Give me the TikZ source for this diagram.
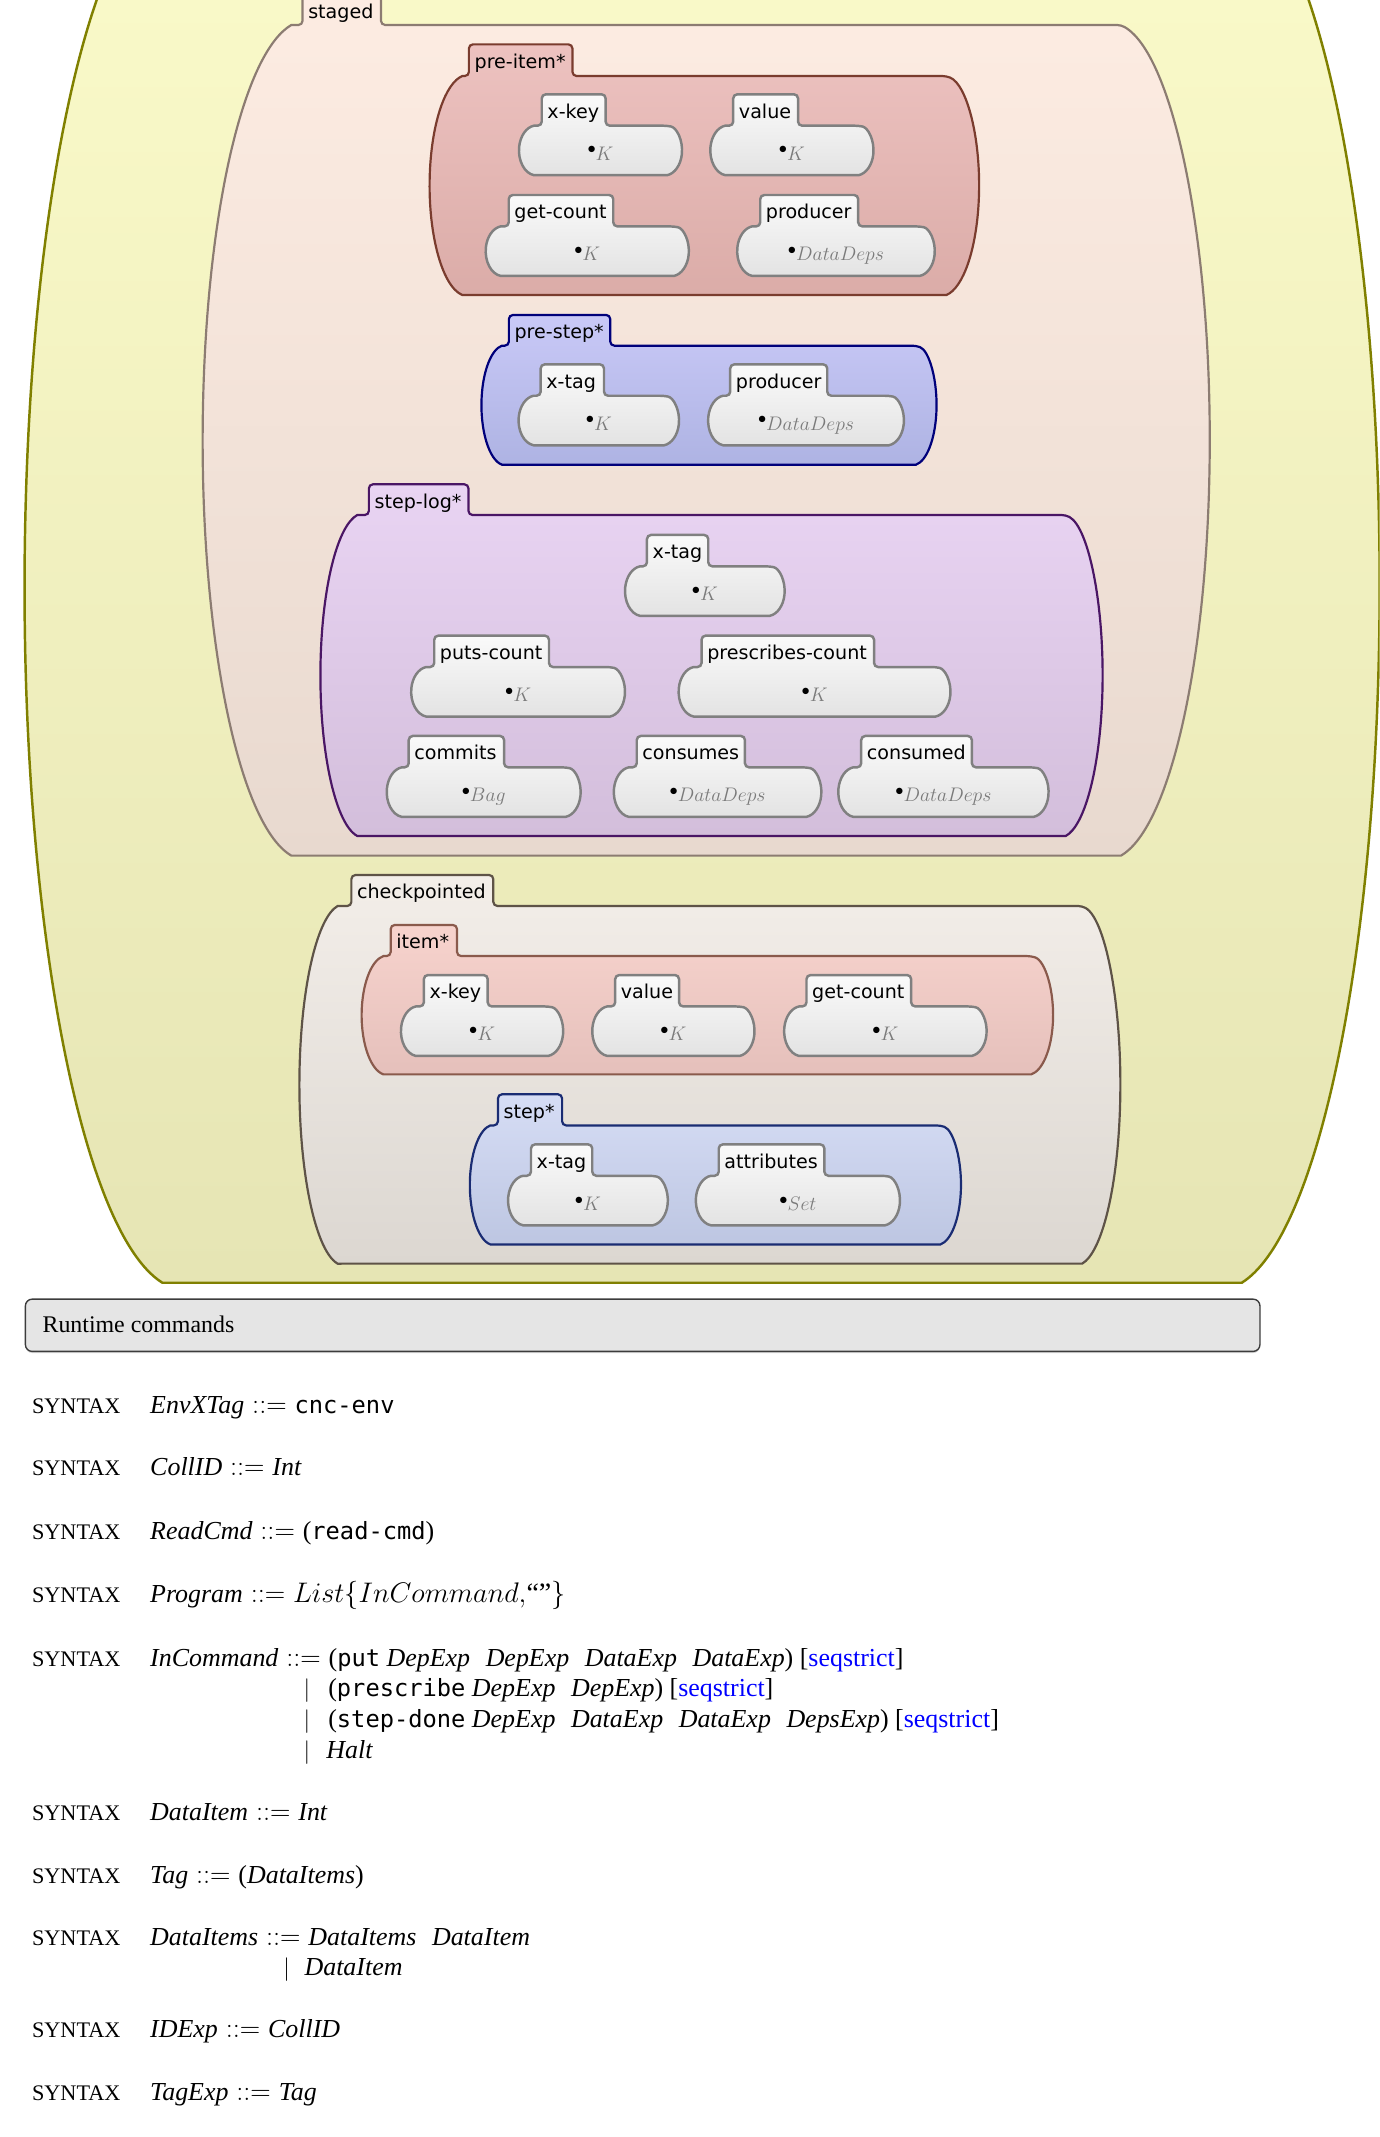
\documentclass[tikz,border=0pt]{standalone}
\usepackage{fontspec}
\setmainfont{Liberation Serif}
\setmonofont[Scale=0.915]{DejaVu Sans Mono}
\newfontfamily\lblfont{DejaVu Sans}
\usetikzlibrary{shadows}
\definecolor{ylTop}{RGB}{251,251,202}
\definecolor{ylBot}{RGB}{230,229,180}
\definecolor{ylBd}{RGB}{128,128,0}
\definecolor{stTop}{RGB}{253,236,226}
\definecolor{stBot}{RGB}{232,217,207}
\definecolor{stBd}{RGB}{140,124,114}
\definecolor{piTop}{RGB}{237,194,192}
\definecolor{piBot}{RGB}{219,172,168}
\definecolor{piBd}{RGB}{122,60,46}
\definecolor{psTop}{RGB}{201,201,247}
\definecolor{psBot}{RGB}{174,179,227}
\definecolor{psBd}{RGB}{0,0,122}
\definecolor{slTop}{RGB}{233,212,243}
\definecolor{slBot}{RGB}{211,190,219}
\definecolor{slBd}{RGB}{74,22,101}
\definecolor{ckTop}{RGB}{243,238,233}
\definecolor{ckBot}{RGB}{220,215,209}
\definecolor{ckBd}{RGB}{94,83,71}
\definecolor{itTop}{RGB}{247,211,205}
\definecolor{itBot}{RGB}{229,192,187}
\definecolor{itBd}{RGB}{138,90,76}
\definecolor{spTop}{RGB}{214,221,245}
\definecolor{spBot}{RGB}{189,198,226}
\definecolor{spBd}{RGB}{26,44,115}
\definecolor{inTop}{RGB}{250,250,250}
\definecolor{inBot}{RGB}{227,227,227}
\definecolor{inBd}{RGB}{128,128,128}
\definecolor{sortgray}{RGB}{122,122,122}
\definecolor{rtFill}{RGB}{229,229,229}
\definecolor{rtBd}{RGB}{60,60,60}

% shape: #1 tab left, #2 tab right, #3 tab top, #4 body top, #5 body bottom,
% #6 leftmost x, #7 rightmost x, #8 bulge, #9 style
\newcommand\kshape[9]{%
  \pgfmathsetmacro\kh{(#5-#4)/2}%
  \pgfmathsetmacro\kbb{\kh/0.99}%
  \pgfmathsetmacro\ka{#8/0.8589}%
  \pgfmathsetmacro\kL{#6+#8}%
  \pgfmathsetmacro\kR{#7-#8}%
  \path[#9,rounded corners=3pt] (#1,#4) -- (#1,#3) -- (#2,#3) -- (#2,#4) -- (\kR,#4)
    [sharp corners] arc[start angle=81.89, end angle=-81.89, x radius=\ka pt, y radius=\kbb pt]
    -- (\kL,#5) arc[start angle=261.89, end angle=98.11, x radius=\ka pt, y radius=\kbb pt]
    [rounded corners=3pt] -- cycle;%
}
\newcommand\srt[1]{\raisebox{4.6pt}{\fontsize{12}{12}\selectfont$\bullet$}{\color{sortgray}$#1$}}
% inner cell: #1 tab left, #2 tab right, #3 tab top, #4 leftmost, #5 rightmost, #6 label, #7 sort, #8 name
\newcommand\knode[8]{%
  \pgfmathsetmacro\kT{#3+23}%
  \pgfmathsetmacro\kB{#3+59.3}%
  \kshape{#1}{#2}{#3}{\kT}{\kB}{#4}{#5}{11}{innercell}%
  \node[lbl] (#8l) at (#1+4,#3+17.5) {#6};%
  \pgfmathsetmacro\kC{(#4+#5)/2}%
  \node[sortc] (#8c) at (\kC,#3+48.3) {\srt{#7}};%
}
\newcommand\gp{\hspace{0.6em}}
\newcommand\sq{[{\color{blue}seqstrict}]}
\newcommand\dfq{{\fontsize{20.5}{22}\selectfont${}::={}$}}

\tikzset{
  yellowcell/.style={top color=ylTop, bottom color=ylBot, draw=ylBd, line width=1.8pt},
  stagedcell/.style={top color=stTop, bottom color=stBot, draw=stBd, line width=1.6pt},
  preitemcell/.style={top color=piTop, bottom color=piBot, draw=piBd, line width=1.6pt},
  prestepcell/.style={top color=psTop, bottom color=psBot, draw=psBd, line width=1.6pt},
  steplogcell/.style={top color=slTop, bottom color=slBot, draw=slBd, line width=1.6pt},
  ckptcell/.style={top color=ckTop, bottom color=ckBot, draw=ckBd, line width=1.6pt},
  itemcell/.style={top color=itTop, bottom color=itBot, draw=itBd, line width=1.6pt},
  stepcell/.style={top color=spTop, bottom color=spBot, draw=spBd, line width=1.6pt},
  innercell/.style={top color=inTop, bottom color=inBot, draw=inBd, line width=1.8pt},
  lbl/.style={anchor=base west, inner sep=0pt, font=\lblfont\fontsize{14}{16}\selectfont},
  sortc/.style={anchor=base, inner sep=0pt, font=\fontsize{15}{17}\selectfont},
  syn/.style={anchor=base west, inner sep=0pt, font=\fontsize{19}{22}\selectfont},
  kwd/.style={anchor=base west, inner sep=0pt, font=\fontsize{16.3}{19}\selectfont},
  barnode/.style={anchor=base, inner sep=0pt, font=\fontsize{19}{22}\selectfont},
  rtbox/.style={draw=rtBd, fill=rtFill, rounded corners=5pt, line width=1pt, inner sep=0pt,
    drop shadow={shadow xshift=0pt, shadow yshift=-1.2pt, opacity=0.35}},
}

\begin{document}
\begin{tikzpicture}[x=1pt, y=-1pt]
\useasboundingbox (0,0) rectangle (1011,1566);
\begin{scope}
\clip (0,0) rectangle (1011,1566);
\kshape{125}{200}{-102}{-80}{940}{18}{1011}{101}{yellowcell}
\kshape{221.7}{279.2}{-4}{18.3}{627}{148.5}{886.5}{65}{stagedcell}
\end{scope}
\node[lbl] (stagedl) at (225.7,13.5) {staged};

% pre-item*
\kshape{343.6}{419.5}{32.5}{55.7}{216.2}{314.8}{717.5}{24}{preitemcell}
\node[lbl] (preiteml) at (347.6,50) {pre-item*};
\knode{397.0}{443.8}{69.1}{380.3}{499.8}{x-key}{K}{pia}
\knode{537.3}{584.8}{69.1}{520.5}{640.1}{value}{K}{pib}
\knode{372.8}{449.4}{142.9}{355.9}{504.8}{get-count}{K}{pic}
\knode{557.1}{628.9}{142.9}{540.2}{685.0}{producer}{DataDeps}{pid}

% pre-step*
\kshape{372.9}{447.2}{230.8}{253.3}{340.5}{352.8}{686.3}{15}{prestepcell}
\node[lbl] (prestepl) at (376.9,248.3) {pre-step*};
\knode{396.2}{442.6}{267.0}{380.0}{497.6}{x-tag}{K}{psa}
\knode{535.1}{606.2}{267.0}{518.9}{662.4}{producer}{DataDeps}{psb}

% step-log*
\kshape{270.3}{343.3}{354.9}{377.4}{612.6}{234.8}{808}{27}{steplogcell}
\node[lbl] (stepll) at (274.3,372.4) {step-log*};
\knode{474.1}{519.0}{392.0}{458.0}{575.0}{x-tag}{K}{sla}
\knode{318.2}{402.3}{465.8}{301.3}{458.0}{puts-count}{K}{slb}
\knode{514.1}{640.5}{465.8}{497.3}{696.5}{prescribes-count}{K}{slc}
\knode{299.5}{369.4}{539.3}{283.4}{425.5}{commits}{Bag}{sld}
\knode{466.6}{545.9}{539.3}{449.8}{601.9}{consumes}{DataDeps}{sle}
\knode{631.1}{712.2}{539.3}{614.3}{768.4}{consumed}{DataDeps}{slf}

% checkpointed
\kshape{257.5}{361.5}{641.2}{663.9}{926}{219.4}{821}{28}{ckptcell}
\node[lbl] (ckptl) at (261.5,658.7) {checkpointed};
% item*
\kshape{286.3}{334.9}{677.8}{700.6}{787.3}{265}{771.7}{16}{itemcell}
\node[lbl] (iteml) at (290.3,695.3) {item*};
\knode{310.6}{357.4}{714.5}{293.8}{412.7}{x-key}{K}{ita}
\knode{450.8}{497.6}{714.5}{434.0}{552.9}{value}{K}{itb}
\knode{591.0}{667.7}{714.5}{574.6}{723.0}{get-count}{K}{itc}
% step*
\kshape{364.9}{411.9}{801.9}{824.7}{911.9}{344.3}{704.2}{15}{stepcell}
\node[lbl] (stepl) at (368.9,819.4) {step*};
\knode{389.1}{434.0}{838.6}{372.3}{489.4}{x-tag}{K}{spa}
\knode{526.7}{604.1}{838.6}{509.9}{659.5}{attributes}{Set}{spb}

% Runtime commands
\node[rtbox, anchor=north west, minimum width=904.7pt, minimum height=38.3pt] (rt) at (18.1,951.5) {};
\node[anchor=base west, inner sep=0pt, font=\fontsize{17.5}{20}\selectfont] (rtt) at (31,976.6) {Runtime commands};

% syntax
\node[kwd] (k1) at (23.3,1035.7) {SYNTAX};
\node[syn] (s1) at (109.9,1035.7) {\textit{EnvXTag}\dfq\texttt{cnc-env}};
\node[kwd] (k2) at (23.3,1081.6) {SYNTAX};
\node[syn] (s2) at (109.9,1081.6) {\textit{CollID}\dfq\textit{Int}};
\node[kwd] (k3) at (23.3,1128.1) {SYNTAX};
\node[syn] (s3) at (109.9,1128.1) {\textit{ReadCmd}\dfq(\texttt{read-cmd})};
\node[kwd] (k4) at (23.3,1174.5) {SYNTAX};
\node[syn] (s4) at (109.9,1174.5) {\textit{Program}{\fontsize{20.5}{22}\selectfont${}::=List\{InCommand,$“”$\}$}};
\node[kwd] (k5) at (23.3,1221.4) {SYNTAX};
\node[syn] (s5) at (109.9,1221.4) {\textit{InCommand}\dfq(\texttt{put} \textit{DepExp}\gp\textit{DepExp}\gp\textit{DataExp}\gp\textit{DataExp}) \sq};
\node[barnode] (b6) at (224.9,1243.4) {$|$};
\node[syn] (s6) at (240.4,1243.4) {(\texttt{prescribe} \textit{DepExp}\gp\textit{DepExp}) \sq};
\node[barnode] (b7) at (224.9,1265.8) {$|$};
\node[syn] (s7) at (240.4,1265.8) {(\texttt{step-done} \textit{DepExp}\gp\textit{DataExp}\gp\textit{DataExp}\gp\textit{DepsExp}) \sq};
\node[barnode] (b8) at (224.9,1288.5) {$|$};
\node[syn] (s8) at (239,1288.5) {\textit{Halt}};
\node[kwd] (k9) at (23.3,1333.7) {SYNTAX};
\node[syn] (s9) at (109.9,1333.7) {\textit{DataItem}\dfq\textit{Int}};
\node[kwd] (k10) at (23.3,1380.1) {SYNTAX};
\node[syn] (s10) at (109.9,1380.1) {\textit{Tag}\dfq(\textit{DataItems})};
\node[kwd] (k11) at (23.3,1425.3) {SYNTAX};
\node[syn] (s11) at (109.9,1425.3) {\textit{DataItems}\dfq\textit{DataItems}\gp\textit{DataItem}};
\node[barnode] (b12) at (210,1447.3) {$|$};
\node[syn] (s12) at (223,1447.3) {\textit{DataItem}};
\node[kwd] (k13) at (23.3,1493.3) {SYNTAX};
\node[syn] (s13) at (109.9,1493.3) {\textit{IDExp}\dfq\textit{CollID}};
\node[kwd] (k14) at (23.3,1538.9) {SYNTAX};
\node[syn] (s14) at (109.9,1538.9) {\textit{TagExp}\dfq\textit{Tag}};
\end{tikzpicture}
\end{document}
